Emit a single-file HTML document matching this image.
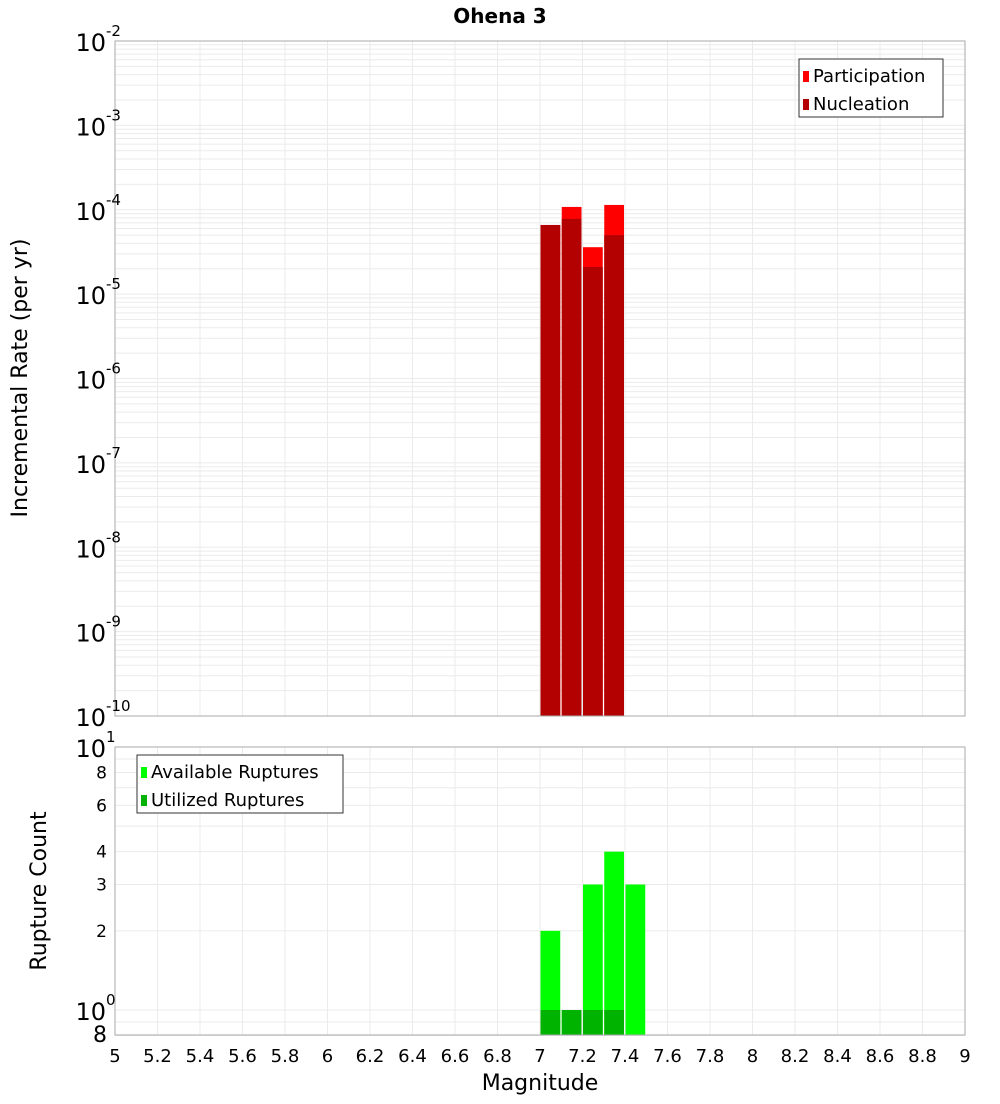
<!DOCTYPE html>
<html><head><meta charset="utf-8"><style>
body{margin:0;background:#fff;font-family:"DejaVu Sans","Liberation Sans",sans-serif}
</style></head><body>
<svg id="c" width="1000" height="1100" xmlns="http://www.w3.org/2000/svg" font-family="DejaVu Sans, Liberation Sans, sans-serif">
<text x="500" y="23" text-anchor="middle" font-size="20" font-weight="bold">Ohena 3</text>
<g id="topg"></g>
<g id="botg"></g>
<text x="540" y="1090" text-anchor="middle" font-size="22">Magnitude</text>
<text transform="translate(27,378) rotate(-90)" text-anchor="middle" font-size="22">Incremental Rate (per yr)</text>
<text transform="translate(46,891) rotate(-90)" text-anchor="middle" font-size="22">Rupture Count</text>
</svg>
<script>
const magBins=[7.0,7.1,7.2,7.3];
const participation=[6.6e-5,1.08e-4,3.6e-5,1.14e-4];
const nucleation=[6.6e-5,7.8e-5,2.1e-5,5.0e-5];
const countBins=[7.0,7.1,7.2,7.3,7.4];
const available=[2,1,3,4,3];
const utilized=[1,1,1,1,0];
const xTicks=[5,5.2,5.4,5.6,5.8,6,6.2,6.4,6.6,6.8,7,7.2,7.4,7.6,7.8,8,8.2,8.4,8.6,8.8,9];
const topExp=[-2,-3,-4,-5,-6,-7,-8,-9,-10];
const botTicks=[8,6,4,3,2];
const NS="http://www.w3.org/2000/svg";
const L=115,R=965,T1=41,B1=716,T2=747,B2=1035;
const xS=m=>L+(m-5)/4*(R-L);
const yT=v=>T1+(-2-Math.log10(v))*(B1-T1)/8;
const yB=v=>1010-Math.log10(v)*263;
function mk(p,t,a){const e=document.createElementNS(NS,t);for(const k in a)e.setAttribute(k,a[k]);p.appendChild(e);return e;}
const topG=document.getElementById('topg'),botG=document.getElementById('botg');
for(let d=-10;d<-2;d++)for(let k=1;k<10;k++){const y=yT(k*Math.pow(10,d));
const g=mk(topG,'line',{x1:L,x2:R,y1:y,y2:y,stroke:'#ebebeb','stroke-width':1});

}
for(const t of xTicks){const x=xS(t);
const g=mk(topG,'line',{x1:x,x2:x,y1:T1,y2:B1,stroke:'#ebebeb'});


const g2=mk(botG,'line',{x1:x,x2:x,y1:T2,y2:B2,stroke:'#ebebeb'});


const tl=mk(botG,'text',{x:x,y:1062,'text-anchor':'middle','font-size':18});tl.textContent=String(t);

}
for(const v of [0.8,0.9,1,2,3,4,5,6,7,8,9,10]){const y=yB(v);
const g=mk(botG,'line',{x1:L,x2:R,y1:y,y2:y,stroke:'#ebebeb'});

}
const bw=(xS(5.1)-xS(5))-1.5;
magBins.forEach((m,i)=>{
const p=mk(topG,'rect',{x:xS(m)+0.5,y:yT(participation[i]),width:bw,height:B1-yT(participation[i]),fill:'#ff0000'});


const n=mk(topG,'rect',{x:xS(m)+0.5,y:yT(nucleation[i]),width:bw,height:B1-yT(nucleation[i]),fill:'#b30000'});

});
countBins.forEach((m,i)=>{
const a=mk(botG,'rect',{x:xS(m)+0.5,y:yB(available[i]),width:bw,height:B2-yB(available[i]),fill:'#00ff00'});


if(utilized[i]>0){const u=mk(botG,'rect',{x:xS(m)+0.5,y:yB(utilized[i]),width:bw,height:B2-yB(utilized[i]),fill:'#00b300'});

}});
mk(topG,'rect',{x:L,y:T1,width:R-L,height:B1-T1,fill:'none',stroke:'#aaa'});
mk(botG,'rect',{x:L,y:T2,width:R-L,height:B2-T2,fill:'none',stroke:'#aaa'});
topExp.forEach(e=>{const y=yT(Math.pow(10,e));
const t=mk(topG,'text',{x:106,y:y+10,'text-anchor':'end','font-size':24});t.textContent='10';


const s=mk(topG,'text',{x:106,y:y-5,'font-size':15});s.textContent=String(e);

});
[[10,'1'],[1,'0']].forEach(([v,e])=>{const y=yB(v);
const t=mk(botG,'text',{x:106,y:y+10,'text-anchor':'end','font-size':24});t.textContent='10';


const s=mk(botG,'text',{x:106,y:y-5,'font-size':15});s.textContent=e;

});
botTicks.forEach(v=>{const t=mk(botG,'text',{x:107,y:yB(v)+6,'text-anchor':'end','font-size':17});t.textContent=String(v);

});
const t8=mk(botG,'text',{x:107,y:1042,'text-anchor':'end','font-size':22});t8.textContent='8';


function legend(p,x,y,w,items){const g=mk(p,'g',{});


mk(g,'rect',{x:x,y:y,width:w,height:58,fill:'#fff',stroke:'#333'});
items.forEach(([c,lab],i)=>{mk(g,'rect',{x:x+4,y:y+12+i*28,width:6,height:11,fill:c});
const t=mk(g,'text',{x:x+14,y:y+23+i*28,'font-size':18});t.textContent=lab;

});}
legend(topG,799,59,144,[['#ff0000','Participation'],['#b30000','Nucleation']]);
legend(botG,137,755,206,[['#00ff00','Available Ruptures'],['#00b300','Utilized Ruptures']]);
</script>
</body></html>
